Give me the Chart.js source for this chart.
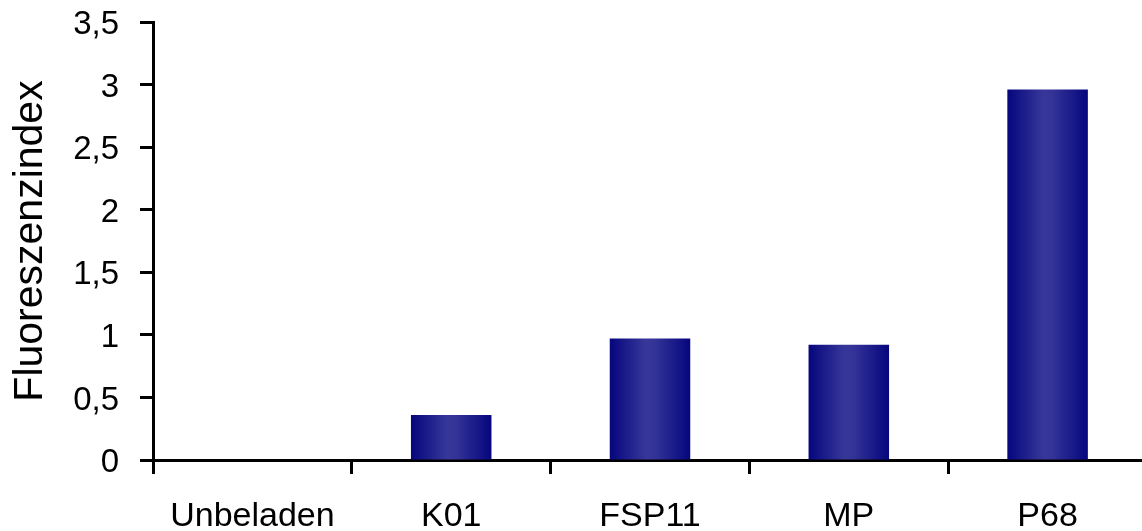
<!DOCTYPE html>
<html>
<head>
<meta charset="utf-8">
<script src="https://cdn.jsdelivr.net/npm/chart.js@4/dist/chart.umd.min.js"></script>
<style>
  html, body { margin: 0; padding: 0; background: #fff; overflow: hidden; }
  #wrap { width: 1142px; height: 531px; overflow: hidden; }
  canvas { display: block; }
</style>
</head>
<body>
<div id="wrap"><canvas id="c" width="1147" height="531"></canvas></div>
<script>
// Probe categories and their fluorescence index
const categories = ['Unbeladen', 'K01', 'FSP11', 'MP', 'P68'];
const fluorescence = [0, 0.36, 0.97, 0.92, 2.96];
const yTickLabels = ['0', '0,5', '1', '1,5', '2', '2,5', '3', '3,5'];
const yTitle = 'Fluoreszenzindex';

const FONT = '"Liberation Sans", Arial, sans-serif';

// Horizontal navy shading across each bar, dark at the sides, lighter in the middle
const barShading = {
  id: 'barShading',
  beforeDatasetsDraw(chart) {
    const ctx = chart.ctx;
    chart.getSortedVisibleDatasetMetas().forEach(meta => {
      meta.data.forEach(bar => {
        const { x, width } = bar.getProps(['x', 'width'], true);
        const g = ctx.createLinearGradient(x - width / 2, 0, x + width / 2, 0);
        g.addColorStop(0, '#06067e');
        g.addColorStop(0.45, '#37379a');
        g.addColorStop(0.55, '#343498');
        g.addColorStop(1, '#06067e');
        // give every bar its own options object so the shading is not shared
        bar.options = Object.assign({}, bar.options, { backgroundColor: g });
      });
    });
  }
};

new Chart(document.getElementById('c'), {
  type: 'bar',
  data: {
    labels: categories,
    datasets: [{
      data: fluorescence,
      backgroundColor: '#20208c',
      borderWidth: 0,
      barPercentage: 0.405,
      categoryPercentage: 1
    }]
  },
  options: {
    responsive: false,
    animation: false,
    layout: { padding: { top: 22, right: 0, bottom: 0, left: 0 } },
    plugins: { legend: { display: false }, tooltip: { enabled: false } },
    scales: {
      x: {
        offset: true,
        grid: {
          offset: true,
          drawOnChartArea: false,
          drawTicks: true,
          tickLength: 14,
          tickWidth: 3,
          tickColor: '#000'
        },
        border: { display: true, color: '#000', width: 3 },
        ticks: {
          color: '#000',
          font: { family: FONT, size: 34 },
          padding: 22,
          maxRotation: 0,
          autoSkip: false
        },
        afterFit(scale) { scale.height = 71; }
      },
      y: {
        min: 0,
        max: 3.5,
        grid: {
          drawOnChartArea: false,
          drawTicks: true,
          tickLength: 13,
          tickWidth: 3,
          tickColor: '#000'
        },
        border: { display: true, color: '#000', width: 3 },
        ticks: {
          stepSize: 0.5,
          color: '#000',
          font: { family: FONT, size: 33 },
          padding: 21,
          labelOffset: 3,
          callback: (value, index) => yTickLabels[index]
        },
        title: {
          display: true,
          text: yTitle,
          color: '#000',
          font: { family: FONT, size: 41 },
          padding: { top: 6, bottom: 0 }
        },
        afterFit(scale) {
          scale.width = 153;
          scale.paddingTop = 0;
          scale.paddingBottom = 0;
        }
      }
    }
  },
  plugins: [barShading]
});
</script>
</body>
</html>
